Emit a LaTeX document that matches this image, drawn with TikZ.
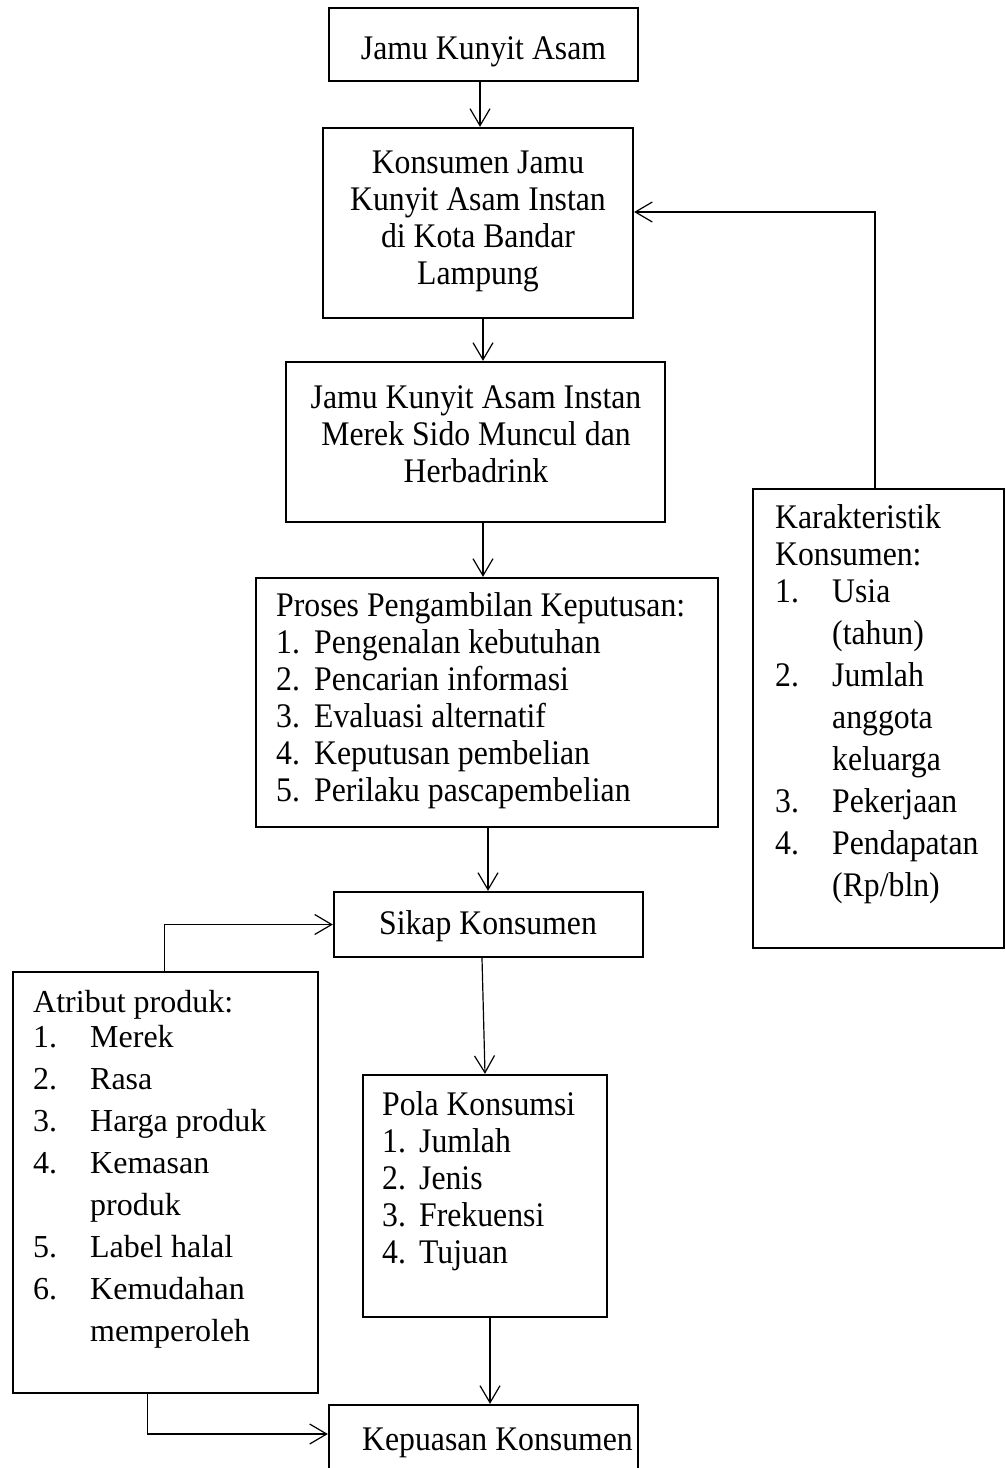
\documentclass[tikz,border=0pt]{standalone}
\usepackage{fontspec}
\setmainfont{Liberation Serif}
\newfontfamily\tallserif{Liberation Serif}[FakeStretch=0.92]
\usetikzlibrary{arrows.meta}
\newcommand{\lbl}[2]{\makebox[#1][l]{#2}}
\begin{document}
\begin{tikzpicture}[x=1pt,y=-1pt,
  box/.style={draw, line width=2.3pt, inner sep=0pt, rectangle},
  conn/.style={line width=1.2pt, -{Straight Barb[length=17pt,width=20pt]}},
  txt/.style={inner sep=0pt, font=\tallserif\fontsize{34.5}{37}\selectfont},
  txtn/.style={inner sep=0pt, font=\fontsize{32}{37}\selectfont}]
\useasboundingbox (0,0) rectangle (1005,1468);
\clip (0,0) rectangle (1005,1468);
% boxes
\node[box, minimum width=309pt, minimum height=73pt]  (b1) at (483.5,44.5) {};
\node[box, minimum width=310pt, minimum height=190pt] (b2) at (478,223) {};
\node[box, minimum width=379pt, minimum height=160pt] (b3) at (475.5,442) {};
\node[box, minimum width=462pt, minimum height=249pt] (b4) at (487,702.5) {};
\node[box, minimum width=309pt, minimum height=65pt]  (b5) at (488.5,924.5) {};
\node[box, minimum width=244pt, minimum height=242pt] (b6) at (485,1196) {};
\node[box, minimum width=309pt, minimum height=95pt]  (b7) at (483.5,1452.5) {};
\node[box, minimum width=305pt, minimum height=421pt] (b8) at (165.5,1182.5) {};
\node[box, minimum width=251pt, minimum height=459pt] (b9) at (878.5,718.5) {};
% texts
\node[txt, anchor=base] (t1) at (483.5,59) {Jamu Kunyit Asam};
\node[txt, anchor=north, align=center] (t2) at (478,147.1)
  {\strut Konsumen Jamu\\Kunyit Asam Instan\\di Kota Bandar\\Lampung};
\node[txt, anchor=north, align=center] (t3) at (476,382)
  {\strut Jamu Kunyit Asam Instan\\Merek Sido Muncul dan\\Herbadrink};
\node[txt, anchor=north west, align=left] (t4) at (276,590.1)
  {\strut Proses Pengambilan Keputusan:\\
   \lbl{38pt}{1.}Pengenalan kebutuhan\\
   \lbl{38pt}{2.}Pencarian informasi\\
   \lbl{38pt}{3.}Evaluasi alternatif\\
   \lbl{38pt}{4.}Keputusan pembelian\\
   \lbl{38pt}{5.}Perilaku pascapembelian};
\node[txt, anchor=base] (t5) at (488,934) {Sikap Konsumen};
\node[txt, anchor=north west, align=left] (t6) at (382,1089.1)
  {\strut Pola Konsumsi\\
   \lbl{37pt}{1.}Jumlah\\
   \lbl{37pt}{2.}Jenis\\
   \lbl{37pt}{3.}Frekuensi\\
   \lbl{37pt}{4.}Tujuan};
\node[txt, anchor=base] (t7) at (497.5,1450) {Kepuasan Konsumen};
\node[txtn, anchor=north west, align=left] (t8) at (33,986.1)
  {\strut Atribut produk:\\[-2pt]
   \lbl{57pt}{1.}Merek\\[5pt]
   \lbl{57pt}{2.}Rasa\\[5pt]
   \lbl{57pt}{3.}Harga produk\\[5pt]
   \lbl{57pt}{4.}Kemasan\\[5pt]
   \hspace*{57pt}produk\\[5pt]
   \lbl{57pt}{5.}Label halal\\[5pt]
   \lbl{57pt}{6.}Kemudahan\\[5pt]
   \hspace*{57pt}memperoleh};
\node[txt, anchor=north west, align=left] (t9) at (775,502.1)
  {\strut Karakteristik\\
   Konsumen:\\
   \lbl{57pt}{1.}Usia\\[5pt]
   \hspace*{57pt}(tahun)\\[5pt]
   \lbl{57pt}{2.}Jumlah\\[5pt]
   \hspace*{57pt}anggota\\[5pt]
   \hspace*{57pt}keluarga\\[5pt]
   \lbl{57pt}{3.}Pekerjaan\\[5pt]
   \lbl{57pt}{4.}Pendapatan\\[5pt]
   \hspace*{57pt}(Rp/bln)};
% vertical connectors
\draw[conn] ([xshift=-3.5pt]b1.south) -- ([xshift=2pt]b2.north);
\draw[conn] ([xshift=5pt]b2.south) -- ([xshift=7.5pt]b3.north);
\draw[conn] ([xshift=7.5pt]b3.south) -- ([xshift=-4pt]b4.north);
\draw[conn] ([xshift=1pt]b4.south) -- ([xshift=-0.5pt]b5.north);
\draw[conn] ([xshift=-6.5pt]b5.south) -- (b6.north);
\draw[conn] ([xshift=5pt]b6.south) -- ([xshift=6.5pt]b7.north);
% side connectors
\draw[conn] ([xshift=-3.5pt]b9.north) |- (b2.east |- 0,212);
\draw[conn] ([xshift=-1pt]b8.north) |- (b5.west);
\draw[conn] ([xshift=-18pt]b8.south) |- (b7.west |- 0,1434);
\end{tikzpicture}
\end{document}
